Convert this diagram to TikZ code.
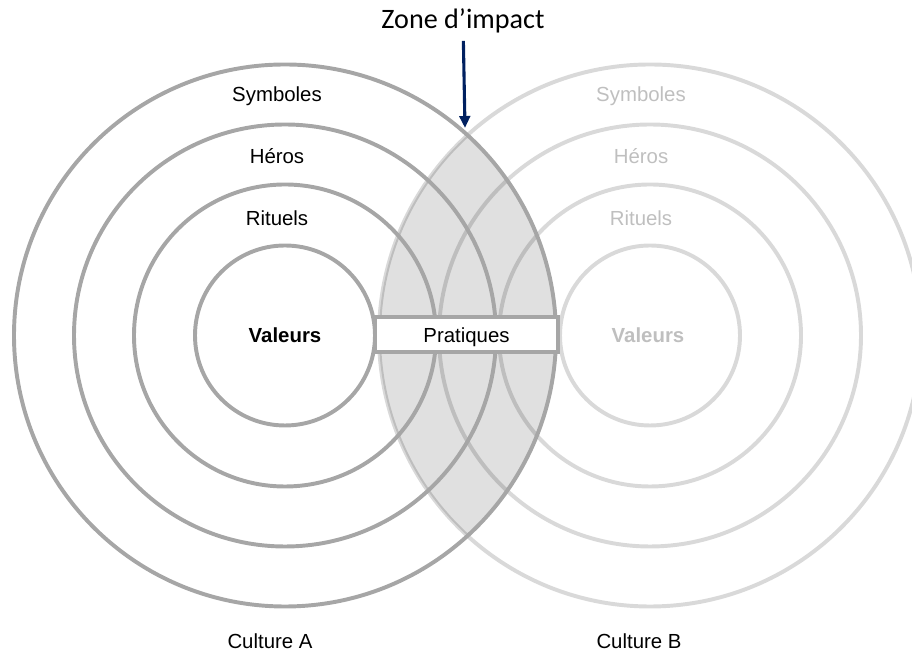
\documentclass[tikz,border=0pt]{standalone}
\usepackage{fontspec}
\setmainfont{Liberation Sans}
\newfontfamily\calibrifont{Carlito}
\usepackage{tikz}
\usetikzlibrary{calc}
\usetikzlibrary{arrows, arrows.meta, positioning}

\definecolor{ringA}{HTML}{A6A6A6}
\definecolor{ringB}{HTML}{D9D9D9}
\definecolor{textB}{HTML}{BFBFBF}
\definecolor{navy}{HTML}{002060}

\tikzset{
	ringa/.style={draw=ringA,line width=2.8pt},
	ringb/.style={draw=ringB,line width=2.8pt},
	lbla/.style={text=black,font=\fontsize{14.5}{17}\selectfont},
	lblb/.style={text=textB,font=\fontsize{14.5}{17}\selectfont}
}

\begin{document}
\begin{tikzpicture}[x=0.025cm,y=0.025cm]
	\useasboundingbox (0,0) rectangle (912,661);
	
	% Centres
	\coordinate (cA) at (285,325.5);
	\coordinate (cB) at (650,325.5);
	
	% Culture B rings
	\foreach \r in {90,151,211,271}
		\draw[ringb] (cB) circle (\r);
	
	% Zone d'impact (lens)
	\begin{scope}
		\clip (cA) circle (271);
		\fill[black,opacity=0.12] (cB) circle (271);
	\end{scope}
	
	% Culture A rings
	\foreach \r in {90,151,211,271}
		\draw[ringa] (cA) circle (\r);
	
	% Labels A
	\node (symA) at (277,565) [lbla] {Symboles};
	\node (herA) at (277,505) [lbla] {Héros};
	\node (ritA) at (277,443) [lbla] {Rituels};
	\node (valA) at (285,326) [lbla,font=\fontsize{14.5}{17}\selectfont\bfseries] {Valeurs};
	
	% Labels B
	\node (symB) at (641,565) [lblb] {Symboles};
	\node (herB) at (641,505) [lblb] {Héros};
	\node (ritB) at (641,443) [lblb] {Rituels};
	\node (valB) at (648,326) [lblb,font=\fontsize{14.5}{17}\selectfont\bfseries] {Valeurs};
	
	% Practices bar
	\node (prat) at (466.5,326.5) [draw=ringA,line width=2.8pt,fill=white,minimum width=4.575cm,minimum height=0.875cm,inner sep=0pt,text height=11pt,text depth=0pt,lbla] {Pratiques};
	
	% Impact arrow
	\node (impact) at (463,640) [font=\calibrifont\fontsize{20}{24}\selectfont] {Zone d’impact};
	\coordinate (apex) at (465,533);
	\draw[-{Triangle[length=8.5pt,width=7.5pt]},navy,line width=2.2pt,shorten <=2pt] (impact) -- (apex);
	
	% Culture names
	\node (cultA) at (270,20) [lbla] {Culture A};
	\node (cultB) at (639,20) [lbla] {Culture B};
\end{tikzpicture}
\end{document}
